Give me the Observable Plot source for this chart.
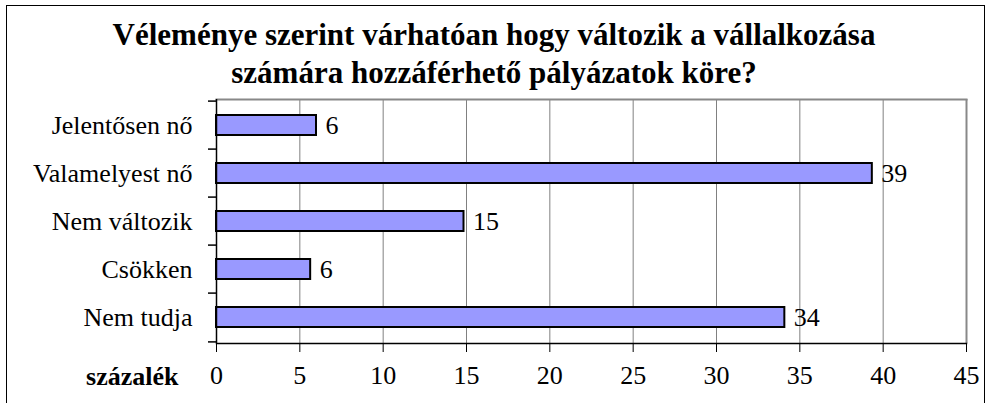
<!DOCTYPE html>
<html>
<head>
<meta charset="utf-8">
<script src="https://cdn.jsdelivr.net/npm/d3@7"></script>
<script src="https://cdn.jsdelivr.net/npm/@observablehq/plot@0.6"></script>
<style>
  html, body { margin: 0; padding: 0; background: #fff; }
  #wrap { position: relative; width: 988px; height: 403px; overflow: hidden; background: #fff; }
  #frame { position: absolute; left: 6px; top: 5px; width: 979px; height: 450px; border: 1.5px solid #000; box-sizing: border-box; }
  #title { position: absolute; left: 0; top: 15.5px; width: 988px; text-align: center;
           font-family: "Liberation Serif", "Times New Roman", serif; font-weight: bold; font-size: 31px; line-height: 38px; color: #000; }
  #chart { position: absolute; left: 0; top: 0; }
  #chart svg, #chart svg text, #chart svg g { font-family: "Liberation Serif", "Times New Roman", serif !important; }
</style>
</head>
<body>
<div id="wrap">
  <div id="frame"></div>
  <div id="title">Véleménye szerint várhatóan hogy változik a vállalkozása<br>számára hozzáférhető pályázatok köre?</div>
  <div id="chart"></div>
</div>
<script>
const categories = ["Jelentősen nő", "Valamelyest nő", "Nem változik", "Csökken", "Nem tudja"];
const values = [6.0, 39.35, 14.85, 5.65, 34.1];
const labels = ["6", "39", "15", "6", "34"];
const xTicks = [0, 5, 10, 15, 20, 25, 30, 35, 40, 45];
const axisTitle = "százalék";

const data = categories.map((c, i) => ({cat: c, value: values[i], label: labels[i]}));
const step = (343 - 99) / categories.length;
const serif = "Liberation Serif";

const chart = Plot.plot({
  width: 988,
  height: 403,
  marginTop: 99,
  marginBottom: 60,
  marginLeft: 216,
  marginRight: 22,
  style: {fontFamily: serif, fontSize: "26px", background: "transparent", color: "#000", overflow: "visible"},
  x: {domain: [0, 45], axis: null},
  y: {domain: categories, paddingInner: 0.59, paddingOuter: 0.295, axis: null},
  marks: [
    Plot.ruleX(xTicks.filter(d => d > 0 && d < 45), {stroke: "#808080", strokeWidth: 1}),
    Plot.ruleX([45], {stroke: "#888", strokeWidth: 2}),
    Plot.frame({anchor: "top", stroke: "#888", strokeWidth: 2}),
    Plot.barX(data, {y: "cat", x: "value", fill: "#9999FF", stroke: "#000", strokeWidth: 2}),
    Plot.text(data, {y: "cat", x: "value", text: "label", textAnchor: "start", dx: 9, fontSize: 26, fontFamily: serif, fill: "#000"}),
    Plot.ruleX([0], {stroke: "#000", strokeWidth: 1.5}),
    Plot.frame({anchor: "bottom", stroke: "#000", strokeWidth: 1.5}),
    Plot.ruleY(categories, {y: d => d, x1: -0.48, x2: 0, dy: -step / 2, stroke: "#000", strokeWidth: 1.5}),
    Plot.ruleY(categories.slice(-1), {y: d => d, x1: -0.48, x2: 0, dy: step / 2, stroke: "#000", strokeWidth: 1.5}),
    Plot.axisY({tickSize: 0, tickPadding: 24, fontSize: 26, fontFamily: serif, fill: "#000", label: null}),
    Plot.axisX({ticks: xTicks, tickSize: 9, tickPadding: 13, fontSize: 26, fontFamily: serif, fill: "#000", stroke: "#000", label: null}),
    Plot.text([axisTitle], {x: 0, frameAnchor: "bottom", dy: 41.7, dx: -38, textAnchor: "end", fontWeight: "bold", fontSize: 26, fontFamily: serif, fill: "#000"})
  ]
});
document.getElementById("chart").appendChild(chart);
</script>
</body>
</html>
